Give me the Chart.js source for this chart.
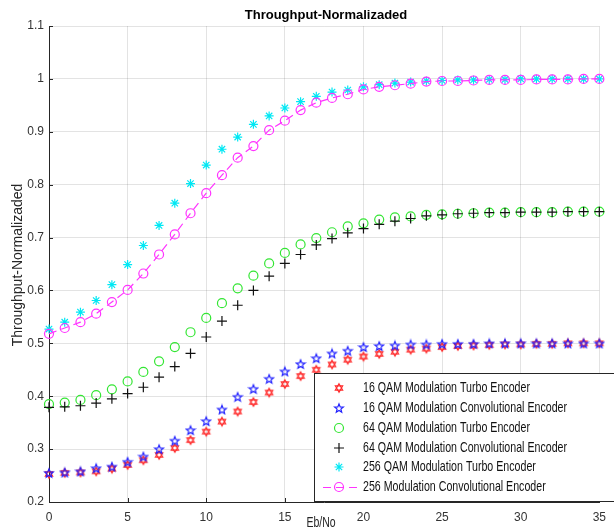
<!DOCTYPE html>
<html>
<head>
<meta charset="utf-8">
<script src="https://cdn.jsdelivr.net/npm/chart.js@4.4.1/dist/chart.umd.min.js"></script>
<style>
html, body { margin: 0; padding: 0; background: #fff; }
#wrap { width: 614px; height: 528px; }
</style>
</head>
<body>
<div id="wrap"><canvas id="chart" width="614" height="528"></canvas></div>
<script>
"use strict"

// Eb/No values (x axis)
const ebno = [0, 1, 2, 3, 4, 5, 6, 7, 8, 9, 10, 11, 12, 13, 14, 15, 16, 17,
    18, 19, 20, 21, 22, 23, 24, 25, 26, 27, 28, 29, 30, 31, 32, 33, 34, 35];

// throughput values
const qam16Turbo = [0.253, 0.255, 0.256, 0.258, 0.263, 0.270, 0.279, 0.289, 0.302, 0.317, 0.333, 0.352,
    0.371, 0.389, 0.407, 0.423, 0.438, 0.450, 0.460, 0.469, 0.475, 0.480, 0.484, 0.488,
    0.490, 0.493, 0.495, 0.496, 0.497, 0.498, 0.498, 0.499, 0.499, 0.500, 0.500, 0.500];
const qam16Conv = [0.255, 0.256, 0.258, 0.264, 0.267, 0.276, 0.286, 0.300, 0.316, 0.336, 0.353, 0.375,
    0.399, 0.414, 0.433, 0.447, 0.461, 0.472, 0.481, 0.486, 0.493, 0.495, 0.496, 0.498,
    0.498, 0.499, 0.499, 0.499, 0.500, 0.500, 0.500, 0.500, 0.500, 0.500, 0.500, 0.500];
const qam64Turbo = [0.385, 0.388, 0.393, 0.402, 0.413, 0.428, 0.446, 0.466, 0.493, 0.521, 0.548, 0.576,
    0.604, 0.628, 0.651, 0.671, 0.687, 0.699, 0.710, 0.721, 0.727, 0.734, 0.738, 0.740,
    0.743, 0.744, 0.745, 0.746, 0.747, 0.747, 0.748, 0.748, 0.748, 0.749, 0.749, 0.749];
const qam64Conv = [0.379, 0.380, 0.382, 0.387, 0.395, 0.405, 0.417, 0.436, 0.456, 0.481, 0.512, 0.542,
    0.572, 0.600, 0.627, 0.651, 0.668, 0.686, 0.698, 0.709, 0.717, 0.725, 0.731, 0.736,
    0.741, 0.743, 0.745, 0.746, 0.747, 0.747, 0.748, 0.748, 0.748, 0.749, 0.749, 0.749];
const qam256Turbo = [0.527, 0.540, 0.559, 0.581, 0.611, 0.649, 0.685, 0.723, 0.765, 0.802, 0.837, 0.867,
    0.890, 0.914, 0.930, 0.945, 0.957, 0.967, 0.975, 0.979, 0.985, 0.989, 0.992, 0.994,
    0.996, 0.997, 0.998, 0.998, 0.999, 0.999, 1.000, 1.000, 1.000, 1.000, 1.000, 1.000];
const qam256Conv = [0.518, 0.529, 0.540, 0.556, 0.578, 0.601, 0.632, 0.668, 0.706, 0.746, 0.784, 0.818,
    0.851, 0.873, 0.903, 0.921, 0.941, 0.955, 0.964, 0.971, 0.980, 0.985, 0.988, 0.991,
    0.995, 0.996, 0.996, 0.997, 0.998, 0.998, 0.998, 0.999, 0.999, 0.999, 1.000, 1.000];

const seriesNames = [
    "16 QAM Modulation Turbo Encoder",
    "16 QAM Modulation Convolutional Encoder",
    "64 QAM Modulation Turbo Encoder",
    "64 QAM Modulation Convolutional Encoder",
    "256 QAM Modulation Turbo Encoder",
    "256 Modulation Convolutional Encoder"
];

const xTicks = [0, 5, 10, 15, 20, 25, 30, 35];
const yTicks = [0.2, 0.3, 0.4, 0.5, 0.6, 0.7, 0.8, 0.9, 1.0, 1.1];

const chartTitle = "Throughput-Normalizaded";
const yTitle = "Throughput-Normalizaded";
const xTitle = "Eb/No";

// marker pictures for the star shapes chart.js does not have
function makeMarker(drawFn){
    const c = document.createElement("canvas");
    c.width = 12;
    c.height = 12;
    const g = c.getContext("2d");
    drawFn(g, 6, 6);
    return c;
}

const hexagram = makeMarker(function(g, cx, cy){
    g.strokeStyle = "#ff2a2a";
    g.lineWidth = 1.1;
    const r = 4.3;
    for (let t = 0; t < 2; t++) {
        g.beginPath();
        for (let k = 0; k < 3; k++) {
            const a = -Math.PI / 2 + t * Math.PI + k * 2 * Math.PI / 3;
            const px = cx + r * Math.cos(a);
            const py = cy + r * Math.sin(a);
            if (k == 0) g.moveTo(px, py); else g.lineTo(px, py);
        }
        g.closePath();
        g.stroke();
    }
});

const pentagram = makeMarker(function(g, cx, cy){
    g.strokeStyle = "#2020ff";
    g.lineWidth = 1.2;
    g.beginPath();
    for (let k = 0; k < 10; k++) {
        const r = (k % 2 == 0) ? 4.6 : 2.0;
        const a = -Math.PI / 2 + k * Math.PI / 5;
        const px = cx + r * Math.cos(a);
        const py = cy + 0.5 + r * Math.sin(a);
        if (k == 0) g.moveTo(px, py); else g.lineTo(px, py);
    }
    g.closePath();
    g.stroke();
});

function toPoints(values){
    return ebno.map((x, i) => ({ x: x, y: values[i] }));
}

const styles = [
    { data: qam16Turbo, pointStyle: hexagram, color: "#ff2a2a", radius: 5 },
    { data: qam16Conv, pointStyle: pentagram, color: "#2020ff", radius: 5 },
    { data: qam64Turbo, pointStyle: "circle", color: "#33e633", radius: 4.5 },
    { data: qam64Conv, pointStyle: "cross", color: "#111111", radius: 5 },
    { data: qam256Turbo, pointStyle: "star", color: "#00e8f4", radius: 4.5 },
    { data: qam256Conv, pointStyle: "circle", color: "#ff33ff", radius: 4.5 }
];

const datasets = styles.map(function(s, i){
    return {
        label: seriesNames[i],
        data: toPoints(s.data),
        showLine: i == 5,
        borderColor: s.color,
        borderWidth: 1.2,
        borderDash: i == 5 ? [8, 5] : [],
        pointStyle: s.pointStyle,
        pointRadius: s.radius,
        pointBorderColor: s.color,
        pointBackgroundColor: "rgba(0,0,0,0)",
        pointBorderWidth: 1.2,
        fill: false,
        clip: false,
        order: 5 - i
    };
});

const fontFamily = "'Liberation Sans', Arial, sans-serif";

// draws text squeezed sideways, the picture has a narrow face
function narrowText(ctx, text, x, y, squeeze, align){
    ctx.save();
    ctx.translate(x, y);
    ctx.scale(squeeze, 1);
    ctx.textAlign = align;
    ctx.fillText(text, 0, 0);
    ctx.restore();
}

// titles, inward ticks and the boxed legend
const extrasPlugin = {
    id: "extras",
    afterDraw(chart){
        const ctx = chart.ctx;
        const area = chart.chartArea;
        const xs = chart.scales.x;
        const ys = chart.scales.y;
        ctx.save();

        // small inward ticks on left and bottom axes
        ctx.strokeStyle = "#262626";
        ctx.lineWidth = 1;
        ctx.beginPath();
        yTicks.forEach(v => {
            const py = Math.round(ys.getPixelForValue(v)) + 0.5;
            ctx.moveTo(area.left, py);
            ctx.lineTo(area.left + 4, py);
        });
        xTicks.forEach(v => {
            const px = Math.round(xs.getPixelForValue(v)) + 0.5;
            ctx.moveTo(px, area.bottom);
            ctx.lineTo(px, area.bottom - 4);
        });
        ctx.stroke();

        // title
        ctx.fillStyle = "#000";
        ctx.font = "bold 13px " + fontFamily;
        ctx.textAlign = "center";
        ctx.textBaseline = "middle";
        ctx.fillText(chartTitle, 326, 15);

        // y title
        ctx.save();
        ctx.translate(18, 265);
        ctx.rotate(-Math.PI / 2);
        ctx.font = "14px " + fontFamily;
        ctx.fillStyle = "#262626";
        ctx.fillText(yTitle, 0, 0);
        ctx.restore();

        // x title
        ctx.font = "14px " + fontFamily;
        ctx.fillStyle = "#262626";
        ctx.textBaseline = "top";
        narrowText(ctx, xTitle, 321, 516, 0.75, "center");

        // legend box
        const lx = 314.5, ly = 373.5, lw = 310, lh = 128;
        ctx.fillStyle = "#fff";
        ctx.fillRect(lx, ly, lw, lh);
        ctx.strokeStyle = "#262626";
        ctx.lineWidth = 1;
        ctx.strokeRect(lx, ly, lw, lh);

        const rowY = [388, 408, 428, 448, 467, 487];
        ctx.font = "14.5px " + fontFamily;
        ctx.textBaseline = "middle";
        const longest = ctx.measureText(seriesNames[1]).width;
        const squeeze = 204 / longest;
        datasets.forEach(function(ds, i){
            const y = rowY[i];
            if (i == 5) {
                ctx.save();
                ctx.strokeStyle = ds.borderColor;
                ctx.lineWidth = ds.borderWidth;
                ctx.setLineDash(ds.borderDash);
                ctx.beginPath();
                ctx.moveTo(323, y + 0.5);
                ctx.lineTo(357, y + 0.5);
                ctx.stroke();
                ctx.restore();
            }
            ctx.save();
            ctx.strokeStyle = ds.pointBorderColor;
            ctx.fillStyle = "rgba(0,0,0,0)";
            ctx.lineWidth = ds.pointBorderWidth;
            Chart.helpers.drawPoint(ctx, {
                pointStyle: ds.pointStyle,
                radius: ds.pointRadius,
                rotation: 0,
                borderWidth: ds.pointBorderWidth
            }, 339, y);
            ctx.restore();
            ctx.fillStyle = "#111";
            narrowText(ctx, ds.label, 363, y, squeeze, "left");
        });

        ctx.restore();
    }
};

new Chart(document.getElementById("chart"), {
    type: "line",
    data: { datasets: datasets },
    options: {
        responsive: false,
        animation: false,
        devicePixelRatio: 1,
        layout: { padding: { top: 26, right: 12, bottom: 0, left: 0 } },
        plugins: {
            legend: { display: false },
            tooltip: { enabled: false },
            title: { display: false }
        },
        scales: {
            x: {
                type: "linear",
                min: 0,
                max: 35,
                afterFit: s => { s.height = 26; },
                afterBuildTicks: s => { s.ticks = xTicks.map(v => ({ value: v })); },
                grid: { color: "rgba(0,0,0,0.11)", drawTicks: false },
                border: { display: true, color: "#262626", width: 1 },
                ticks: {
                    padding: 8,
                    color: "#333",
                    font: { family: fontFamily, size: 12 },
                    maxRotation: 0,
                    callback: v => String(v)
                }
            },
            y: {
                type: "linear",
                min: 0.2,
                max: 1.1,
                afterFit: s => { s.width = 49; },
                afterBuildTicks: s => { s.ticks = yTicks.map(v => ({ value: v })); },
                grid: { color: "rgba(0,0,0,0.11)", drawTicks: false },
                border: { display: true, color: "#262626", width: 1 },
                ticks: {
                    padding: 5,
                    color: "#333",
                    font: { family: fontFamily, size: 12 },
                    callback: v => String(Number(v.toFixed(1)))
                }
            }
        }
    },
    plugins: [extrasPlugin]
});
</script>
</body>
</html>
